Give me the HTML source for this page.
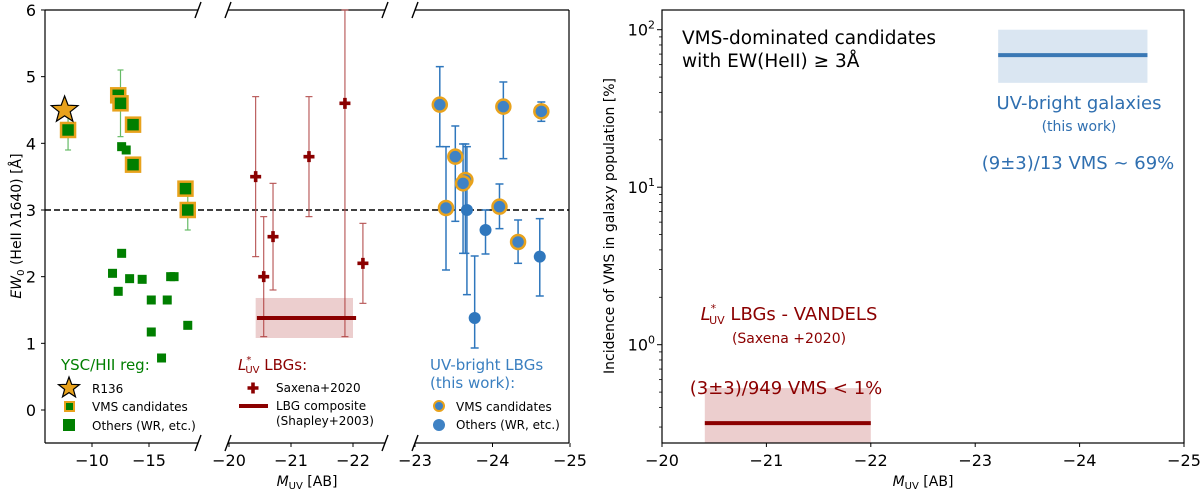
<!DOCTYPE html>
<html><head><meta charset="utf-8"><style>
html,body{margin:0;padding:0;background:#fff;width:1200px;height:490px;overflow:hidden}
svg{display:block;font-family:"DejaVu Sans","Liberation Sans",sans-serif}
</style></head><body>
<svg id="fig" width="1200" height="490" viewBox="0 0 1200 490" xmlns="http://www.w3.org/2000/svg"></svg>
<script>
var yTicksL=[0,1,2,3,4,5,6];
var p1Ticks=[-10,-15];
var p2Ticks=[-20,-21,-22];
var p3Ticks=[-23,-24,-25];
var r136M=[-7.6];
var r136EW=[4.5];
var yscVmsM=[-7.9,-12.3,-12.5,-13.6,-13.6,-18.2,-18.4];
var yscVmsEW=[4.2,4.72,4.6,4.28,3.68,3.32,3.0];
var yscVmsLo=[3.9,4.72,4.1,4.28,3.68,3.32,2.7];
var yscVmsHi=[4.5,4.72,5.1,4.28,3.68,3.32,3.3];
var yscOthM=[-12.6,-13.0,-12.6,-11.8,-12.3,-13.3,-14.4,-15.2,-15.2,-16.1,-16.6,-16.9,-17.2,-18.4];
var yscOthEW=[3.95,3.9,2.35,2.05,1.78,1.97,1.96,1.65,1.17,0.78,1.65,2.0,2.0,1.27];
var saxM=[-20.43,-20.56,-20.71,-21.29,-21.87,-22.16];
var saxEW=[3.5,2.0,2.6,3.8,4.6,2.2];
var saxLo=[2.3,1.1,1.8,2.9,1.1,1.6];
var saxHi=[4.7,2.9,3.4,4.7,6.5,2.8];
var compM=[-20.45,-22.05];
var compEW=[1.38];
var compLo=[1.08];
var compHi=[1.68];
var ubVmsM=[-23.32,-23.40,-23.52,-23.65,-23.62,-24.09,-24.14,-24.33,-24.63];
var ubVmsEW=[4.58,3.03,3.8,3.45,3.4,3.05,4.55,2.52,4.48];
var ubVmsLo=[3.95,2.1,2.83,2.35,2.35,2.72,3.77,2.2,4.33];
var ubVmsHi=[5.15,3.95,4.26,3.99,3.99,3.39,4.92,2.85,4.62];
var ubOthM=[-23.67,-23.91,-23.77,-24.61];
var ubOthEW=[3.0,2.7,1.38,2.3];
var ubOthLo=[1.73,2.34,0.93,1.71];
var ubOthHi=[3.95,3.0,2.31,2.87];
var rTicksX=[-20,-21,-22,-23,-24,-25];
var rTicksExp=[0,1,2];
var bandMRed=[-20.41,-22.0];
var bandVRed=[0.318];
var bandLoRed=[0.237];
var bandHiRed=[0.53];
var bandMBlue=[-23.22,-24.65];
var bandVBlue=[69];
var bandLoBlue=[46];
var bandHiBlue=[100];

var SV=document.getElementById('fig');
var NS='http://www.w3.org/2000/svg';
function mk(tag,attrs,parent){var e=document.createElementNS(NS,tag);for(var k in attrs){e.setAttribute(k,attrs[k]);}(parent||SV).appendChild(e);return e;}
function txt(x,y,s,attrs,parent){var a={x:x,y:y};for(var k in attrs){a[k]=attrs[k];}var e=mk('text',a,parent);if(s)e.textContent=s;return e;}
function tsp(parent,s,attrs){var e=mk('tspan',attrs||{},parent);e.textContent=s;return e;}

var GREEN='#007f00',GOLD='#e8a21c',RED='#8b0000',BLUEE='#2f77bd';
function yL(v){return 410-v*66.67;}
function px1(m){return 92+(-10-m)*11.4;}
function px2(m){return 229+(-20-m)*62;}
function px3(m){return 415+(-23-m)*77.5;}
function xR(m){return 662+(-20-m)*104.4;}
function yR(v){return 344.7-Math.log10(v)*157.5;}
function star(cx,cy,r,parent){var p='';for(var i=0;i<10;i++){var a=-Math.PI/2+i*Math.PI/5;var rr=(i%2)?r*0.42:r;p+=(i?'L':'M')+(cx+rr*Math.cos(a)).toFixed(1)+','+(cy+rr*Math.sin(a)).toFixed(1);}return mk('path',{d:p+'Z',fill:GOLD,stroke:'#000','stroke-width':1.2},parent);}
function cross(cx,cy,s,parent){var h=1.8;var d='M'+(cx-h)+','+(cy-s)+'H'+(cx+h)+'V'+(cy-h)+'H'+(cx+s)+'V'+(cy+h)+'H'+(cx+h)+'V'+(cy+s)+'H'+(cx-h)+'V'+(cy+h)+'H'+(cx-s)+'V'+(cy-h)+'H'+(cx-h)+'Z';return mk('path',{d:d,fill:RED},parent);}

var gL=mk('g',{});


function ebar(x,lo,hi,col,w,cap){mk('line',{x1:x,x2:x,y1:yL(lo),y2:yL(hi),stroke:col,'stroke-width':w},gL);mk('line',{x1:x-cap,x2:x+cap,y1:yL(lo),y2:yL(lo),stroke:col,'stroke-width':w},gL);mk('line',{x1:x-cap,x2:x+cap,y1:yL(hi),y2:yL(hi),stroke:col,'stroke-width':w},gL);}
function panelFrame(xa,xb,hasLeft,hasRight){mk('line',{x1:xa,x2:xb,y1:10,y2:10,stroke:'#000','stroke-width':1.2},gL);mk('line',{x1:xa,x2:xb,y1:443,y2:443,stroke:'#000','stroke-width':1.2},gL);if(hasLeft)mk('line',{x1:xa,x2:xa,y1:10,y2:443,stroke:'#000','stroke-width':1.2},gL);if(hasRight)mk('line',{x1:xb,x2:xb,y1:10,y2:443,stroke:'#000','stroke-width':1.2},gL);}
function xTicks(ticks,f){ticks.forEach(function(m){mk('line',{x1:f(m),x2:f(m),y1:443,y2:447,stroke:'#000'},gL);var t=txt(f(m),466,'\u2212'+Math.abs(m),{'font-size':16,'text-anchor':'middle'},gL);

});}

try{
var dl=mk('line',{x1:45,x2:569,y1:yL(3),y2:yL(3),stroke:'#000','stroke-width':1.5,'stroke-dasharray':'6,3'},gL);


panelFrame(45,198,true,false);panelFrame(228,385,false,false);panelFrame(415,569,false,true);
[198,228,385,415].forEach(function(x){[10,443].forEach(function(y){mk('line',{x1:x-3,y1:y+8,x2:x+3,y2:y-8,stroke:'#000','stroke-width':1.4},gL);});});
yTicksL.forEach(function(v){mk('line',{x1:41,x2:45,y1:yL(v),y2:yL(v),stroke:'#000'},gL);var t=txt(36,yL(v)+6,String(v),{'font-size':16,'text-anchor':'end'},gL);

});
xTicks(p1Ticks,px1);xTicks(p2Ticks,px2);xTicks(p3Ticks,px3);
var ylab=txt(0,0,'',{'font-size':14,transform:'translate(21,226) rotate(-90)','text-anchor':'middle'},gL);
tsp(ylab,'EW',{'font-style':'italic'});tsp(ylab,'0',{'font-size':10,dy:3});tsp(ylab,' (HeII \u03bb1640) [\u00c5]',{dy:-3});


var xlab=txt(307,486,'',{'font-size':14,'text-anchor':'middle'},gL);
tsp(xlab,'M',{'font-style':'italic'});tsp(xlab,'UV',{'font-size':10,dy:3});tsp(xlab,' [AB]',{dy:-3});


}catch(e){}

try{
yscVmsM.forEach(function(m,i){if(yscVmsHi[i]>yscVmsLo[i])ebar(px1(m),yscVmsLo[i],yscVmsHi[i],'#66bb66',1.2,3);});
yscOthM.forEach(function(m,i){var r=mk('rect',{x:px1(m)-4.5,y:yL(yscOthEW[i])-4.5,width:9,height:9,fill:GREEN},gL);

});
yscVmsM.forEach(function(m,i){var r=mk('rect',{x:px1(m)-7,y:yL(yscVmsEW[i])-7,width:14,height:14,fill:GREEN,stroke:GOLD,'stroke-width':2.5},gL);

});
r136M.forEach(function(m,i){var s=star(px1(m),yL(r136EW[i]),14,gL);

});

saxM.forEach(function(m,i){ebar(px2(m),saxLo[i],Math.min(saxHi[i],6),'#b55050',1.1,3.5);});
var band=mk('rect',{x:px2(-20.43),y:yL(compHi[0]),width:px2(-22.0)-px2(-20.43),height:yL(compLo[0])-yL(compHi[0]),fill:'rgba(178,60,60,0.25)'},gL);


var cl=mk('line',{x1:px2(compM[0]),x2:px2(compM[1]),y1:yL(compEW[0]),y2:yL(compEW[0]),stroke:RED,'stroke-width':4},gL);


saxM.forEach(function(m,i){var c=cross(px2(m),yL(saxEW[i]),5.5,gL);

});

ubVmsM.forEach(function(m,i){ebar(px3(m),ubVmsLo[i],ubVmsHi[i],BLUEE,1.5,4);});
ubOthM.forEach(function(m,i){ebar(px3(m),ubOthLo[i],ubOthHi[i],BLUEE,1.5,4);});
ubVmsM.forEach(function(m,i){var c=mk('circle',{cx:px3(m),cy:yL(ubVmsEW[i]),r:7,fill:'#3f82c4',stroke:GOLD,'stroke-width':2.5},gL);

});
ubOthM.forEach(function(m,i){var c=mk('circle',{cx:px3(m),cy:yL(ubOthEW[i]),r:6,fill:'#2f77bd'},gL);

});
}catch(e){}

try{
var lg1=mk('g',{},gL);


txt(61,370,'YSC/HII reg:',{'font-size':15,fill:GREEN},lg1);
star(69,388,11,lg1);
txt(92,393,'R136',{'font-size':12},lg1);
mk('rect',{x:65,y:402,width:9,height:9,fill:GREEN,stroke:GOLD,'stroke-width':2},lg1);
txt(92,411,'VMS candidates',{'font-size':12},lg1);
mk('rect',{x:63,y:419,width:12,height:12,fill:GREEN},lg1);
txt(92,430,'Others (WR, etc.)',{'font-size':12},lg1);

var lg2=mk('g',{},gL);


var lt=txt(238,370,'',{'font-size':15,fill:RED},lg2);
tsp(lt,'L',{'font-style':'italic'});tsp(lt,'*',{'font-size':10,dy:-7});tsp(lt,'UV',{'font-size':10,dx:-6,dy:10});tsp(lt,' LBGs:',{dy:-3});
cross(253,388,5.5,lg2);
txt(276,392,'Saxena+2020',{'font-size':12},lg2);
mk('line',{x1:239,x2:268,y1:406,y2:406,stroke:RED,'stroke-width':4},lg2);
txt(276,410,'LBG composite',{'font-size':12},lg2);
txt(276,425,'(Shapley+2003)',{'font-size':12},lg2);

var lg3=mk('g',{},gL);


txt(430,370,'UV-bright LBGs',{'font-size':15,fill:'#3a7fc0'},lg3);
txt(430,388,'(this work):',{'font-size':15,fill:'#3a7fc0'},lg3);
mk('circle',{cx:439,cy:406,r:5,fill:'#3f82c4',stroke:GOLD,'stroke-width':2},lg3);
txt(456,411,'VMS candidates',{'font-size':12},lg3);
mk('circle',{cx:439,cy:425,r:6,fill:'#3f82c4'},lg3);
txt(456,429,'Others (WR, etc.)',{'font-size':12},lg3);
}catch(e){}

try{
var gR=mk('g',{});


var rb=mk('rect',{x:xR(bandMRed[0]),y:yR(bandHiRed[0]),width:xR(bandMRed[1])-xR(bandMRed[0]),height:yR(bandLoRed[0])-yR(bandHiRed[0]),fill:'rgba(178,60,60,0.25)'},gR);


var rl=mk('line',{x1:xR(bandMRed[0]),x2:xR(bandMRed[1]),y1:yR(bandVRed[0]),y2:yR(bandVRed[0]),stroke:RED,'stroke-width':4},gR);


var bb=mk('rect',{x:xR(bandMBlue[0]),y:yR(bandHiBlue[0]),width:xR(bandMBlue[1])-xR(bandMBlue[0]),height:yR(bandLoBlue[0])-yR(bandHiBlue[0]),fill:'rgba(70,130,190,0.2)'},gR);


var bl=mk('line',{x1:xR(bandMBlue[0]),x2:xR(bandMBlue[1]),y1:yR(bandVBlue[0]),y2:yR(bandVBlue[0]),stroke:'#3a78b5','stroke-width':4},gR);


mk('rect',{x:662,y:10,width:522,height:433,fill:'none',stroke:'#000','stroke-width':1.2},gR);
rTicksX.forEach(function(m){mk('line',{x1:xR(m),x2:xR(m),y1:443,y2:447,stroke:'#000'},gR);var t=txt(xR(m),466,'\u2212'+Math.abs(m),{'font-size':16,'text-anchor':'middle'},gR);

});
rTicksExp.forEach(function(ex){var y=yR(Math.pow(10,ex));mk('line',{x1:657,x2:662,y1:y,y2:y,stroke:'#000'},gR);var t=txt(655,y+6,'',{'font-size':16,'text-anchor':'end'},gR);tsp(t,'10',{});tsp(t,String(ex),{'font-size':11,dy:-7});

});
[-1,0,1].forEach(function(ex){for(var k=2;k<10;k++){var y=yR(k*Math.pow(10,ex));if(y>10&&y<443)mk('line',{x1:659,x2:662,y1:y,y2:y,stroke:'#000','stroke-width':0.8},gR);}});
var ryl=txt(0,0,'Incidence of VMS in galaxy population   [%]',{'font-size':14,transform:'translate(614,226) rotate(-90)','text-anchor':'middle'},gR);


var rxl=txt(923,486,'',{'font-size':14,'text-anchor':'middle'},gR);
tsp(rxl,'M',{'font-style':'italic'});tsp(rxl,'UV',{'font-size':10,dy:3});tsp(rxl,' [AB]',{dy:-3});


var an1=txt(682,44,'VMS-dominated candidates',{'font-size':18.5},gR);


txt(682,67,'with EW(HeII) \u2265 3\u00c5',{'font-size':18.5},gR);
var an2=txt(1079,109,'UV-bright galaxies',{'font-size':18,fill:'#2f6fb0','text-anchor':'middle'},gR);


txt(1079,131,'(this work)',{'font-size':14,fill:'#2f6fb0','text-anchor':'middle'},gR);
txt(1078,169,'(9\u00b13)/13 VMS ~ 69%',{'font-size':18,fill:'#2f6fb0','text-anchor':'middle'},gR);
var an3=txt(789,320,'',{'font-size':18,fill:RED,'text-anchor':'middle'},gR);
tsp(an3,'L',{'font-style':'italic'});tsp(an3,'*',{'font-size':11,dy:-8});tsp(an3,'UV',{'font-size':11,dx:-7,dy:12});tsp(an3,' LBGs - VANDELS',{dy:-4});


txt(789,343,'(Saxena +2020)',{'font-size':14,fill:RED,'text-anchor':'middle'},gR);
txt(786,394,'(3\u00b13)/949 VMS < 1%',{'font-size':18,fill:RED,'text-anchor':'middle'},gR);
}catch(e){}
</script>
</body></html>
